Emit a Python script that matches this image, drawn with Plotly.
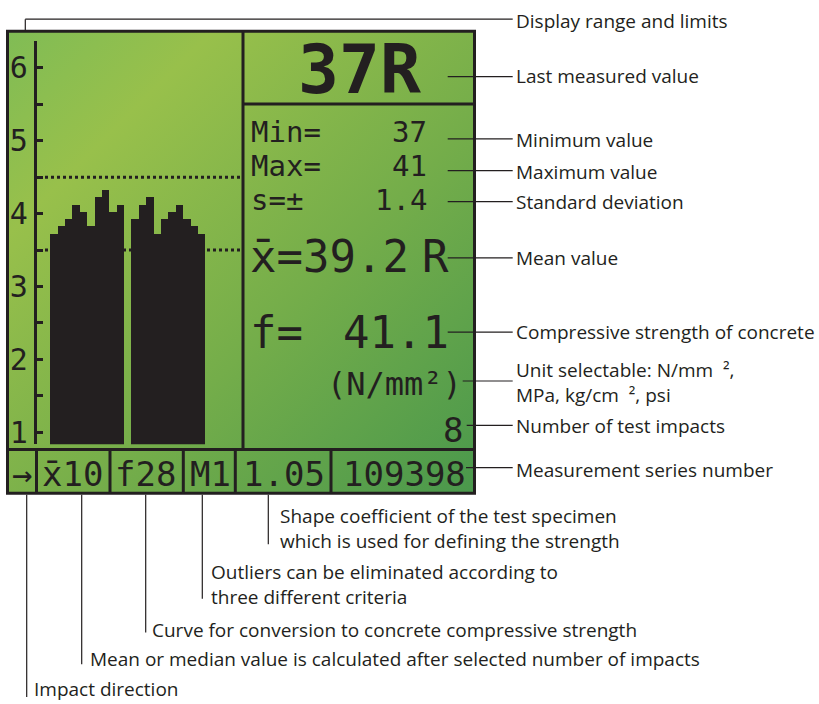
import base64
import plotly.graph_objects as go

W, H = 819, 704

# ---------------- data ----------------
left_group = [3.72, 3.82, 3.92, 4.12, 4.02, 3.82, 4.22, 4.32, 4.02, 4.12]
right_group = [3.92, 4.12, 4.22, 3.72, 3.92, 4.02, 4.12, 3.92, 3.82, 3.72]
bar_values = left_group + [None] + right_group
bar_positions = list(range(len(bar_values)))
limit_values = [3.5, 4.5]
y_tick_values = [1, 2, 3, 4, 5, 6]
y_tick_labels = ["1", "2", "3", "4", "5", "6"]
y_minor_values = [1.5, 2.5, 3.5, 4.5, 5.5]

last_value = "37R"
stat_names = ["Min=", "Max=", "s=±"]
stat_values = ["37", "41", "1.4"]
mean_value = "39.2"
strength_value = "41.1"
unit_text = "(N/mm²)"
impact_count = "8"
status_cells = ["→", "x̄10", "f28", "M1", "1.05", "109398"]

right_labels = ["Display range and limits", "Last measured value", "Minimum value",
                "Maximum value", "Standard deviation", "Mean value",
                "Compressive strength of concrete",
                "Unit selectable: N/mm\u00a0 ²,<br>MPa, kg/cm\u00a0 ², psi",
                "Number of test impacts", "Measurement series number"]
bottom_labels = ["Shape coefficient of the test specimen<br>which is used for defining the strength",
                 "Outliers can be eliminated according to<br>three different criteria",
                 "Curve for conversion to concrete compressive strength",
                 "Mean or median value is calculated after selected number of impacts",
                 "Impact direction"]

# ---------------- styling / layout helpers ----------------
DARK = "#231f20"
MONO = "DejaVu Sans Mono"
LABEL = "Open Sans"


def X(px):
    return px / W


def Y(py):
    return 1 - py / H


# pixel geometry of the histogram
COL_W = 155 / 21          # width of one histogram column (px)
UNIT = 73.5               # px per y unit
Y1_PX = 436               # pixel row of y = 1
AX_L, AX_R = 36.7, 243
AX_T, AX_B = 41.7, 448
x_range = [-0.5 - (50 - AX_L) / COL_W, 20.5 + (AX_R - 205) / COL_W]
y_range = [1 - (AX_B - Y1_PX) / UNIT, 1 + (Y1_PX - AX_T) / UNIT]

fig = go.Figure()
fig.add_trace(go.Bar(x=bar_positions, y=bar_values, width=1,
                     marker=dict(color=DARK, line=dict(width=0)),
                     hoverinfo="skip"))

# LCD background gradient
svg = ('<svg xmlns="http://www.w3.org/2000/svg" width="467" height="466" viewBox="0 0 467 466">'
       '<defs><linearGradient id="g" x1="0" y1="0" x2="1" y2="1">'
       '<stop offset="0" stop-color="#80bc55"/>'
       '<stop offset="0.22" stop-color="#98c04b"/>'
       '<stop offset="0.6" stop-color="#74ad4a"/>'
       '<stop offset="1" stop-color="#4a984c"/>'
       '</linearGradient></defs><rect width="467" height="466" fill="url(#g)"/></svg>')
uri = "data:image/svg+xml;base64," + base64.b64encode(svg.encode()).decode()

shapes = []


def line(x0, y0, x1, y1, w=1.2, color=DARK):
    shapes.append(dict(type="line", xref="paper", yref="paper", x0=X(x0), y0=Y(y0),
                       x1=X(x1), y1=Y(y1), line=dict(color=color, width=w), layer="above"))


# panel frame
shapes.append(dict(type="rect", xref="paper", yref="paper", x0=X(7.5), x1=X(474.5),
                   y0=Y(31.5), y1=Y(497.5), line=dict(color=DARK, width=3), layer="above"))
line(243, 31.5, 243, 453, w=3)
line(243, 105, 474.5, 105, w=3)
line(7.5, 453.3, 474.5, 453.3, w=3)
for xd in [36.5, 110, 183.3, 235.3, 331]:
    line(xd, 453.3, xd, 497.5, w=3)

# limit lines (dotted, behind bars)
for lv in limit_values:
    shapes.append(dict(type="line", xref="paper", yref="y", x0=X(45), x1=X(243),
                       y0=lv, y1=lv, line=dict(color=DARK, width=3, dash="dot"),
                       layer="below"))

# callout lines
line(25.3, 31, 25.3, 19.3)
line(25.3, 19.3, 512.7, 19.3)
for ly, lx in [(77.3, 447.7), (140, 447.7), (172, 447.7), (203.3, 447.7), (260, 447.7),
               (335, 447.7), (384.3, 462.7), (429, 466.7), (471.7, 466)]:
    line(lx, ly, 512.7, ly)
for vx, vy in [(268.3, 549), (202.3, 604), (145.7, 638), (81.7, 670), (26.7, 703)]:
    line(vx, 499, vx, vy)

annotations = []


def text(s, x, y, size, family=MONO, anchor="left", color=DARK, bold=False):
    annotations.append(dict(text=("<b>%s</b>" % s) if bold else s, xref="paper", yref="paper",
                            x=X(x), y=Y(y), xanchor=anchor, yanchor="middle", align="left",
                            showarrow=False, font=dict(family=family, size=size, color=color)))


# LCD texts
text(last_value, 359, 70, 68, anchor="center", bold=True)
for name, val, sy in zip(stat_names, stat_values, [133, 167.5, 202]):
    text(name, 249, sy, 29)
    text(val, 429, sy, 29, anchor="right")
text("x̄=", 248, 259, 44)
text(mean_value, 411, 259, 44, anchor="right")
text("R", 451, 259, 44, anchor="right")
text("f=", 248, 335, 44)
text(strength_value, 451, 335, 44, anchor="right")
text(unit_text, 464, 387, 32, anchor="right")
text(impact_count, 465, 434, 34, anchor="right")
status_x = [10, 40, 113, 188, 241, 341]
for s, sx in zip(status_cells, status_x):
    text(s, sx, 478, 34)

# right labels
right_y = [21, 77, 141, 173, 204, 260, 335, 386, 430, 474]
for s, ry in zip(right_labels, right_y):
    text(s, 514, ry, 19, family=LABEL)

# bottom labels
bottom_pos = [(278, 533), (209, 590), (150, 635), (88, 665), (32, 695)]
for s, (bx, by) in zip(bottom_labels, bottom_pos):
    text(s, bx, by, 19, family=LABEL)

fig.update_layout(
    width=W, height=H, margin=dict(l=0, r=0, t=0, b=0),
    paper_bgcolor="white", plot_bgcolor="rgba(0,0,0,0)",
    showlegend=False, bargap=0,
    xaxis=dict(domain=[X(AX_L), X(AX_R)], range=x_range, visible=False, fixedrange=True),
    yaxis=dict(domain=[Y(AX_B), Y(AX_T)], range=y_range, showline=True, linecolor=DARK,
               linewidth=3, ticks="inside", ticklen=6, tickwidth=3, tickcolor=DARK,
               tickmode="array", tickvals=y_tick_values, ticktext=y_tick_labels,
               tickfont=dict(family=MONO, size=30, color=DARK), showgrid=False,
               zeroline=False, fixedrange=True,
               minor=dict(tickmode="array", tickvals=y_minor_values, ticks="inside",
                          ticklen=6, tickwidth=3, tickcolor=DARK, showgrid=False)),
    images=[dict(source=uri, xref="paper", yref="paper", x=X(7.5), y=Y(31.5),
                 sizex=X(474.5) - X(7.5), sizey=(497.5 - 31.5) / H, xanchor="left",
                 yanchor="top", sizing="stretch", layer="below")],
    shapes=shapes, annotations=annotations,
)

fig.write_html("out.html", config={"displayModeBar": False},
               post_script="document.body.style.margin='0';document.body.style.overflow='hidden';")
